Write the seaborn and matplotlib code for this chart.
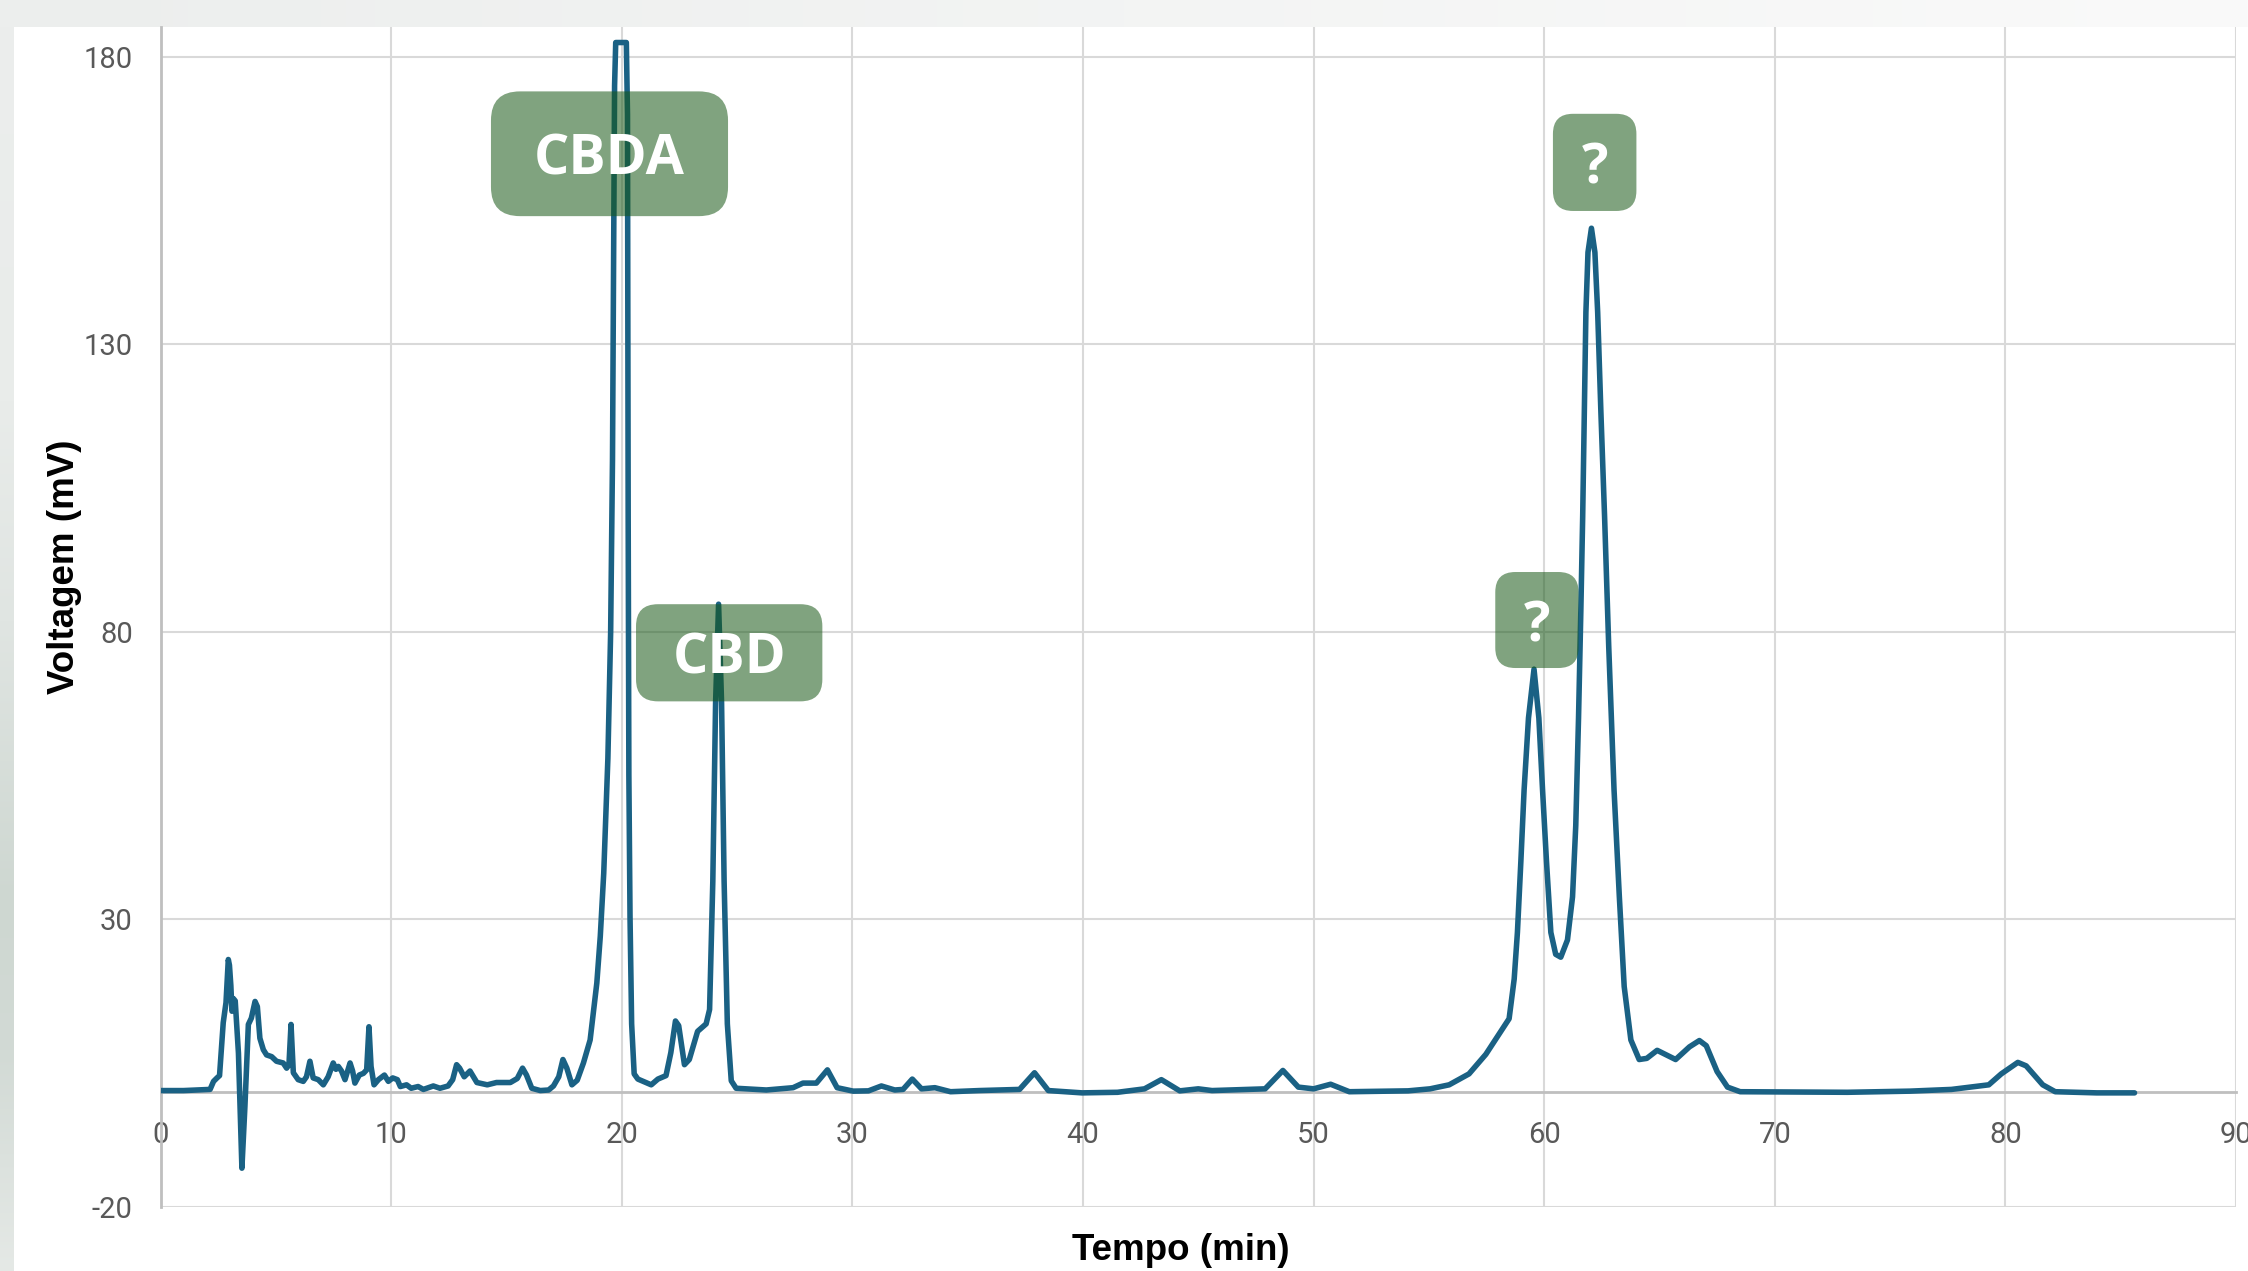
import numpy as np
import pandas as pd
import matplotlib
matplotlib.use("Agg")
import matplotlib.pyplot as plt
import seaborn as sns
from matplotlib.patches import FancyBboxPatch

# ---------------- data ----------------
time_min = [
    0.0, 1.0, 2.15, 2.3, 2.45, 2.56, 2.72, 2.84, 2.94, 2.99, 3.05, 3.1, 3.16, 3.24,
    3.38, 3.53, 3.66, 3.81, 3.94, 4.1, 4.2, 4.31, 4.46, 4.6, 4.82, 5.03, 5.32, 5.47,
    5.57, 5.66, 5.76, 5.97, 6.19, 6.33, 6.48, 6.62, 6.84, 7.06, 7.27, 7.49, 7.61,
    7.71, 7.85, 8.0, 8.22, 8.33, 8.43, 8.62, 8.8, 8.94, 9.04, 9.13, 9.26, 9.45, 9.71,
    9.88, 10.07, 10.27, 10.4, 10.67, 10.87, 11.17, 11.4, 11.83, 12.12, 12.47, 12.67,
    12.84, 12.97, 13.17, 13.42, 13.72, 14.17, 14.57, 15.17, 15.47, 15.7, 15.87, 16.1,
    16.47, 16.83, 17.04, 17.27, 17.45, 17.62, 17.84, 18.07, 18.34, 18.63, 18.92,
    19.07, 19.22, 19.4, 19.52, 19.6, 19.65, 19.69, 19.74, 20.2, 20.25, 20.28, 20.31,
    20.36, 20.43, 20.54, 20.7, 21.28, 21.57, 21.92, 22.13, 22.33, 22.47, 22.72, 22.93,
    23.29, 23.66, 23.81, 23.95, 24.07, 24.2, 24.33, 24.44, 24.58, 24.75, 24.96, 26.27,
    27.43, 27.86, 28.44, 28.92, 29.34, 30.04, 30.7, 31.26, 31.84, 32.2, 32.6, 33.0,
    33.58, 34.26, 35.5, 37.25, 37.9, 38.5, 39.96, 41.5, 42.67, 43.4, 44.2, 45.0, 45.6,
    47.9, 48.67, 49.34, 50.0, 50.74, 51.55, 54.1, 55.05, 55.88, 56.74, 57.47, 58.19,
    58.48, 58.7, 58.84, 58.99, 59.13, 59.32, 59.56, 59.77, 59.93, 60.1, 60.29, 60.5,
    60.72, 61.01, 61.23, 61.37, 61.49, 61.59, 61.67, 61.74, 61.81, 61.9, 62.05, 62.2,
    62.32, 62.46, 62.62, 62.8, 63.03, 63.26, 63.47, 63.76, 64.12, 64.45, 64.9, 65.7,
    66.3, 66.73, 67.03, 67.5, 67.95, 68.5, 73.15, 75.86, 77.66, 79.28, 79.82, 80.54,
    80.9, 81.62, 82.16, 83.96, 85.6,
]
voltage_mv = [
    0.2, 0.2, 0.4, 1.8, 2.4, 2.8, 12.0, 15.5, 23.0, 22.0, 18.5, 14.0, 16.2, 15.8,
    6.7, -13.3, -2.6, 11.7, 12.8, 15.7, 14.8, 9.3, 7.3, 6.4, 6.1, 5.3, 5.0, 4.1,
    4.7, 11.7, 3.3, 2.1, 1.8, 2.6, 5.3, 2.4, 2.1, 1.2, 2.6, 5.0, 3.9,
    4.4, 3.6, 2.1, 5.0, 3.6, 1.5, 2.9, 3.2, 3.8, 11.3, 4.4, 1.2, 2.1, 2.9,
    1.8, 2.4, 2.1, 0.9, 1.2, 0.6, 0.9, 0.4, 1.0, 0.6, 1.0, 2.1,
    4.7, 4.1, 2.6, 3.6, 1.6, 1.2, 1.6, 1.6, 2.3, 4.1, 2.9, 0.6,
    0.2, 0.3, 1.0, 2.6, 5.6, 4.1, 1.2, 2.0, 5.0, 9.0, 18.9,
    27.0, 38.0, 58.0, 80.0, 110.0, 145.0, 175.0, 182.5, 182.5, 170.0, 100.0, 55.0,
    30.4, 11.8, 3.1, 2.2, 1.2, 2.2, 2.8, 6.8, 12.3, 11.5, 4.7, 5.6,
    10.5, 11.8, 14.3, 36.6, 67.6, 84.8, 67.6, 36.6, 11.8, 1.9, 0.6, 0.3,
    0.7, 1.5, 1.5, 3.8, 0.7, 0.1, 0.15, 1.0, 0.3, 0.4, 2.2, 0.5,
    0.7, 0.0, 0.2, 0.4, 3.3, 0.2, -0.2, -0.1, 0.5, 2.1, 0.15, 0.5, 0.2,
    0.5, 3.7, 0.8, 0.5, 1.3, 0.0, 0.15, 0.5, 1.2, 3.1, 6.5, 10.9,
    12.7, 19.6, 27.7, 40.1, 52.5, 65.0, 73.5, 65.0, 52.5, 40.1, 27.7, 23.9,
    23.4, 26.4, 33.9, 46.3, 65.0, 83.6, 100.0, 118.2, 135.6, 146.0, 150.2, 146.0,
    135.6, 118.2, 100.0, 77.4, 52.5, 33.9, 18.3, 9.0, 5.6, 5.8, 7.2, 5.6,
    7.8, 8.9, 8.0, 3.5, 0.8, 0.0, -0.1, 0.1, 0.4, 1.2, 3.1, 5.1,
    4.5, 1.2, 0.0, -0.2, -0.2,
]
x_ticks = [0, 10, 20, 30, 40, 50, 60, 70, 80, 90]
y_ticks = [-20, 30, 80, 130, 180]
peak_names = ["CBDA", "CBD", "?", "?"]
x_title = "Tempo (min)"
y_title = "Voltagem (mV)"

# ---------------- style ----------------
sns.set_theme(style="whitegrid")
plt.rcParams["font.family"] = ["Liberation Sans Narrow", "Roboto", "DejaVu Sans"]
plt.rcParams["axes.unicode_minus"] = False

W, H = 2248, 1271
fig = plt.figure(figsize=(W / 100, H / 100), dpi=100, facecolor="white")

# background frame (light grey strips around the white chart area)
bg = fig.add_axes([0, 0, 1, 1], zorder=-10)
bg.set_axis_off()
img = np.ones((H, W, 3))
top = np.linspace(0, 1, W)[None, :, None]
img[:27, :, :] = (np.array([236, 238, 237]) * (1 - top) + np.array([250, 250, 250]) * top) / 255
stops_y = [0, 400, 620, 900, 1050, 1271]
stops_c = np.array([[236, 238, 237], [233, 236, 234], [224, 229, 226],
                    [206, 215, 209], [210, 218, 213], [229, 233, 230]])
yy = np.arange(H)
left_col = np.stack([np.interp(yy, stops_y, stops_c[:, k]) for k in range(3)], axis=1) / 255
img[27:, :14, :] = left_col[27:, None, :]
bg.imshow(img, extent=[0, 1, 0, 1], aspect="auto", origin="upper")
bg.set_xlim(0, 1); bg.set_ylim(0, 1)

# plot axes
x0_px, x1_px = 160.5, 2236
ytop_px, ybot_px = 27, 1206.7
ax = fig.add_axes([x0_px / W, (H - ybot_px) / H, (x1_px - x0_px) / W, (ybot_px - ytop_px) / H])
ax.set_facecolor("white")

df = pd.DataFrame({"Tempo": time_min, "Voltagem": voltage_mv})
sns.lineplot(data=df, x="Tempo", y="Voltagem", sort=False, estimator=None,
             color="#1a6184", linewidth=4.0, ax=ax, zorder=3)
ax.lines[0].set_solid_joinstyle("round")
ax.lines[0].set_solid_capstyle("round")

ax.set_xlim(0, 90)
ax.set_ylim(-20, 185.2)
ax.set_xticks(x_ticks)
ax.set_yticks(y_ticks)
ax.set_xlabel("")
ax.set_ylabel("")
ax.set_axisbelow(True)
ax.grid(True, color="#d9d9d9", linewidth=1.5)
ax.spines["top"].set_visible(False)
ax.spines["right"].set_visible(False)
ax.spines["left"].set_color("#bfbfbf")
ax.spines["left"].set_linewidth(2.0)
ax.spines["bottom"].set_position(("data", 0))
ax.spines["bottom"].set_color("#bfbfbf")
ax.spines["bottom"].set_linewidth(2.0)
ax.tick_params(axis="x", length=0, pad=21, labelsize=21, labelcolor="#595959")
ax.tick_params(axis="y", length=0, pad=20, labelsize=21, labelcolor="#595959")
for lab in ax.get_xticklabels():
    lab.set_clip_on(False)

# axis titles
fig.text(1181 / W, 1 - 1250 / H, x_title, ha="center", va="center",
         fontsize=26.5, fontweight="bold", family=["Liberation Sans", "DejaVu Sans"], color="black")
fig.text(65 / W, 1 - 567 / H, y_title, ha="center", va="center", rotation=90,
         fontsize=26.5, fontweight="bold", family=["Liberation Sans", "DejaVu Sans"], color="black")

# peak label boxes (x0, x1, y0, y1 in data units, corner radius in x units)
boxes = [
    (14.33, 24.61, 152.3, 174.0, 1.26),
    (20.62, 28.70, 67.9, 84.8, 0.95),
    (60.38, 64.00, 153.2, 170.1, 0.87),
    (57.88, 61.49, 73.7, 90.4, 0.87),
]
aspect = ((x1_px - x0_px) / 90) / ((ybot_px - ytop_px) / 205.2)
for name, (bx0, bx1, by0, by1, r) in zip(peak_names, boxes):
    patch = FancyBboxPatch((bx0, by0), bx1 - bx0, by1 - by0,
                           boxstyle=f"round,pad=0,rounding_size={r}",
                           mutation_aspect=aspect, transform=ax.transData,
                           facecolor="#185816", edgecolor="none", alpha=0.55, zorder=5)
    ax.add_patch(patch)
    ax.text((bx0 + bx1) / 2, (by0 + by1) / 2, name, ha="center", va="center_baseline",
            fontsize=40, fontweight="bold", color="white",
            family=["Open Sans", "DejaVu Sans"], zorder=6)

fig.savefig("out.png", dpi=100, facecolor=fig.get_facecolor())
